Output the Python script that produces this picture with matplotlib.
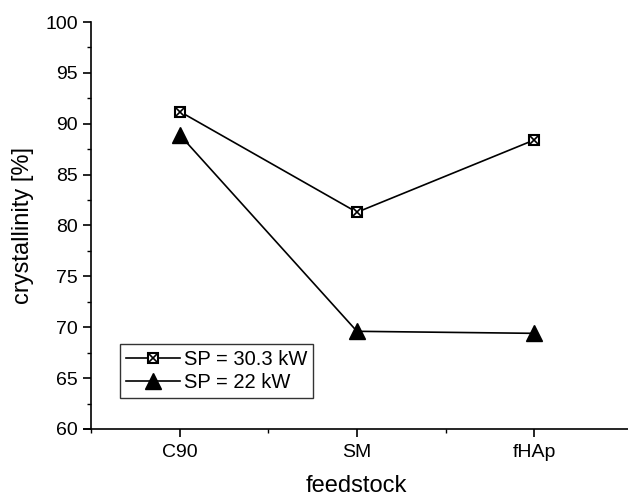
import matplotlib
matplotlib.use("Agg")
from matplotlib import pyplot as plt
from matplotlib.ticker import MultipleLocator, FixedLocator
from matplotlib.lines import Line2D

plt.rcParams['font.family'] = ['Liberation Sans', 'DejaVu Sans']

# data
feedstock = ['C90', 'SM', 'fHAp']
sp_303 = [91.2, 81.3, 88.4]
sp_22 = [88.9, 69.6, 69.4]

x = [1, 2, 3]

fig = plt.figure(figsize=(6.28, 4.98), dpi=100)
ax = fig.add_axes([0.134, 0.1386, 0.866, 0.8172])

ax.plot(x, sp_303, color='black', lw=1.2, marker='s', ms=7.5,
        mfc='white', mec='black', mew=1.5, label='SP = 30.3 kW')
ax.plot(x, sp_303, ls='none', marker='x', ms=5.5, mec='black', mew=1.2)
ax.plot(x, sp_22, color='black', lw=1.2, marker='^', ms=11,
        mfc='black', mec='black', label='SP = 22 kW')

ax.set_xlim(0.46, 3.53)
ax.set_ylim(60, 100)

# y axis sits at x = 0.5, like the original software
ax.spines['left'].set_position(('data', 0.5))
ax.spines['top'].set_visible(False)
ax.spines['right'].set_visible(False)
ax.spines['left'].set_linewidth(1.2)
ax.spines['bottom'].set_linewidth(1.2)

ax.set_xticks(x)
ax.set_xticklabels(feedstock)
ax.xaxis.set_minor_locator(FixedLocator([0.5, 1.5, 2.5]))
ax.yaxis.set_major_locator(MultipleLocator(5))
ax.yaxis.set_minor_locator(MultipleLocator(2.5))

ax.tick_params(which='major', direction='out', length=6, width=1.2, labelsize=14)
ax.tick_params(axis='x', which='major', pad=5)
ax.tick_params(which='minor', direction='out', length=3, width=1.0)

ax.set_xlabel('feedstock', fontsize=17, labelpad=10)
ax.set_ylabel('crystallinity [%]', fontsize=17, labelpad=8)

# legend with the crossed squares
h1 = (Line2D([], [], color='black', lw=1.2, marker='s', ms=7.5, mfc='white', mec='black', mew=1.5),
      Line2D([], [], ls='none', marker='x', ms=5.5, mec='black', mew=1.2))
h2 = Line2D([], [], color='black', lw=1.2, marker='^', ms=11, mfc='black', mec='black')
leg = ax.legend([h1, h2], ['SP = 30.3 kW', 'SP = 22 kW'], loc='lower left',
                bbox_to_anchor=(0.065, 0.076), fontsize=14.5, frameon=True,
                fancybox=False, edgecolor='black', handlelength=2.7,
                borderpad=0.3, labelspacing=0.2, handletextpad=0.2,
                borderaxespad=0.0)
leg.get_frame().set_linewidth(1.0)

plt.savefig('out.png', dpi=100)
